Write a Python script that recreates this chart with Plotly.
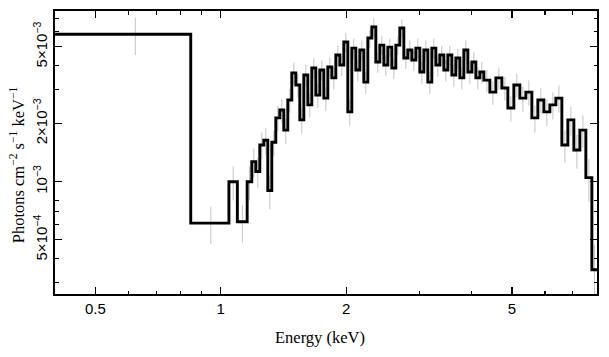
import plotly.graph_objects as go
import math

# Bin edges (keV)
edges = [0.4, 0.847, 1.046, 1.096, 1.157,
         1.1870, 1.2135, 1.2407, 1.2684, 1.2968, 1.3258, 1.3554, 1.3857, 1.4167, 1.4484,
         1.4808, 1.5139, 1.5478, 1.5824, 1.6178, 1.6539, 1.6909, 1.7287, 1.7674, 1.8069,
         1.8473, 1.8886, 1.9308, 1.9740, 2.0181, 2.0633, 2.1094, 2.1566, 2.2048, 2.2541,
         2.3045, 2.3560, 2.4087, 2.4626, 2.5176, 2.5739, 2.6315, 2.6903, 2.7505, 2.8120,
         2.8749, 2.9392, 3.0049, 3.0721, 3.1408, 3.2110, 3.2828, 3.3562, 3.4313, 3.5080,
         3.5864, 3.6666, 3.7486, 3.8325, 3.9182, 4.0058, 4.0954, 4.1869,
         4.2806, 4.4249, 4.5742, 4.7284, 4.8878, 5.0526, 5.2230, 5.3991, 5.5811, 5.7693,
         5.9638, 6.1649, 6.3728, 6.5877, 6.8098, 7.0394, 7.2768, 7.5221,
         7.776, 8.0]

# Unfolded spectrum (photons cm^-2 s^-1 keV^-1), one value per bin
flux = [5.8e-3, 6.1e-4, 1.0e-3, 6.2e-4, 1.0e-3,
        1.27e-3, 1.13e-3, 1.55e-3, 1.64e-3, 0.90e-3, 1.60e-3, 2.14e-3, 2.35e-3, 1.85e-3, 2.65e-3,
        3.66e-3, 3.17e-3, 2.09e-3, 3.57e-3, 2.50e-3, 3.88e-3, 2.81e-3, 3.79e-3, 2.71e-3, 3.93e-3,
        3.45e-3, 4.53e-3, 4.02e-3, 5.29e-3, 2.30e-3, 4.92e-3, 3.79e-3, 4.81e-3, 3.28e-3, 5.55e-3,
        6.33e-3, 4.17e-3, 5.10e-3, 4.02e-3, 4.98e-3, 3.88e-3, 5.10e-3, 6.25e-3, 4.37e-3, 4.81e-3,
        4.27e-3, 4.92e-3, 3.70e-3, 4.81e-3, 3.28e-3, 4.92e-3, 4.02e-3, 4.53e-3, 3.79e-3, 4.53e-3,
        3.57e-3, 4.37e-3, 3.45e-3, 4.81e-3, 3.70e-3, 4.17e-3, 3.45e-3, 3.70e-3,
        3.36e-3, 2.91e-3, 3.45e-3, 3.06e-3, 2.41e-3, 3.17e-3, 2.71e-3, 2.91e-3, 2.14e-3, 2.65e-3,
        2.30e-3, 2.50e-3, 2.71e-3, 1.55e-3, 2.09e-3, 1.46e-3, 1.85e-3, 1.05e-3,
        3.5e-4]

# Relative 1-sigma errors per bin
rel_err = [0.22, 0.22, 0.20, 0.22, 0.20,
           0.17, 0.18, 0.16, 0.16, 0.20, 0.15, 0.15, 0.14, 0.15, 0.14,
           0.13, 0.14, 0.15, 0.13, 0.14, 0.12, 0.14, 0.12, 0.14, 0.12,
           0.13, 0.12, 0.12, 0.11, 0.15, 0.12, 0.13, 0.12, 0.13, 0.11,
           0.11, 0.12, 0.11, 0.12, 0.11, 0.12, 0.11, 0.11, 0.12, 0.12,
           0.12, 0.12, 0.13, 0.12, 0.13, 0.12, 0.13, 0.12, 0.13, 0.12,
           0.13, 0.12, 0.13, 0.12, 0.13, 0.13, 0.13, 0.13,
           0.13, 0.14, 0.13, 0.14, 0.15, 0.14, 0.15, 0.15, 0.16, 0.15,
           0.16, 0.16, 0.16, 0.19, 0.17, 0.20, 0.19, 0.25,
           0.35]

assert len(edges) == len(flux) + 1 == len(rel_err) + 1

x_tickvals = [0.5, 1, 2, 5]
x_ticktext = ["0.5", "1", "2", "5"]
x_minor = [0.6, 0.7, 0.8, 0.9, 3, 4, 6, 7]
y_tickvals = [5e-4, 1e-3, 2e-3, 5e-3]
y_ticktext = ["5×10<sup>−4</sup>", "10<sup>−3</sup>", "2×10<sup>−3</sup>", "5×10<sup>−3</sup>"]
y_minor = [3e-4, 4e-4, 6e-4, 7e-4, 8e-4, 3e-3, 4e-3, 6e-3, 7e-3]

centers = [(edges[i] + edges[i + 1]) / 2 for i in range(len(flux))]
errs = [f * r for f, r in zip(flux, rel_err)]

fig = go.Figure()
fig.add_trace(go.Scatter(
    x=centers, y=flux, mode="markers",
    marker=dict(size=0.1, color="rgba(0,0,0,0)"),
    error_y=dict(type="data", array=errs, color="#c4c4c4", thickness=1, width=0),
    hoverinfo="skip", showlegend=False))
fig.add_trace(go.Scatter(
    x=edges, y=flux + [flux[-1]], mode="lines", line_shape="hv",
    line=dict(color="black", width=2.9), showlegend=False))

axis_common = dict(
    showline=True, linecolor="black", linewidth=1.8, mirror="allticks",
    ticks="inside", ticklen=7, tickwidth=1.3, tickcolor="black",
    showgrid=False, zeroline=False, automargin=False,
    tickfont=dict(family="Liberation Sans, Arial, sans-serif", size=15, color="black"),
)

fig.update_xaxes(type="log", range=[math.log10(0.4), math.log10(8)],
                 tickmode="array", tickvals=x_tickvals, ticktext=x_ticktext,
                 minor=dict(tickmode="array", tickvals=x_minor, ticks="inside",
                            ticklen=3.5, tickwidth=1.3, tickcolor="black", showgrid=False),
                 **axis_common)
fig.update_yaxes(type="log", range=[math.log10(2.62e-4), math.log10(7.66e-3)],
                 tickmode="array", tickvals=y_tickvals, ticktext=y_ticktext, tickangle=-90,
                 minor=dict(tickmode="array", tickvals=y_minor, ticks="inside",
                            ticklen=3.5, tickwidth=1.3, tickcolor="black", showgrid=False),
                 **axis_common)

serif = dict(family="Liberation Serif, Times New Roman, serif", size=16.5, color="black")
fig.add_annotation(
    text="Photons cm<sup>−2</sup> s<sup>−1</sup> keV<sup>−1</sup>",
    xref="paper", yref="paper", x=-0.07, y=0.455, textangle=-90,
    showarrow=False, xanchor="center", yanchor="middle", font=serif)
fig.add_annotation(
    text="Energy (keV)",
    xref="paper", yref="paper", x=0.489, y=-0.155,
    showarrow=False, xanchor="center", yanchor="middle", font=serif)

fig.update_layout(
    width=609, height=357,
    margin=dict(l=55, r=12, t=11, b=63),
    paper_bgcolor="white", plot_bgcolor="white",
)

fig.write_html("out.html",
               config={"displayModeBar": False, "staticPlot": True},
               post_script="document.body.style.margin='0';document.body.style.overflow='hidden';")
